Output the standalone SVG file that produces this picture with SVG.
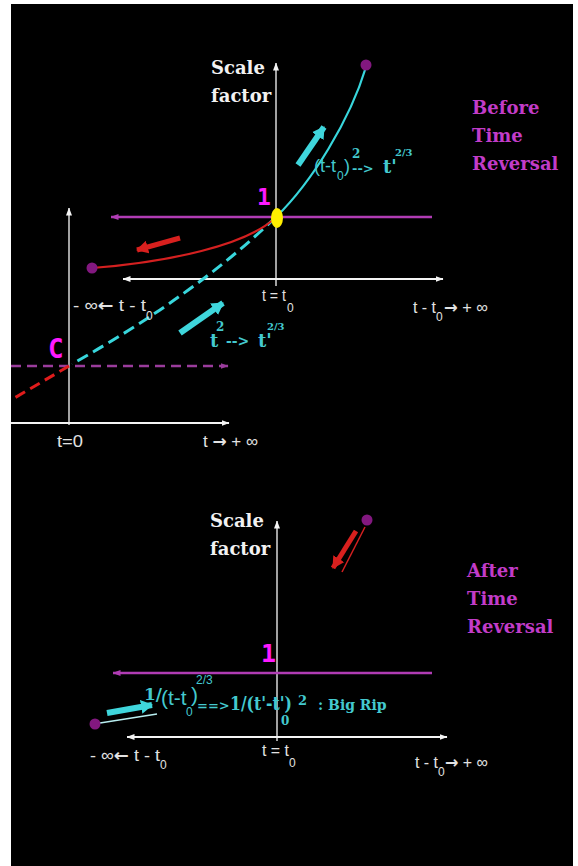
<svg xmlns="http://www.w3.org/2000/svg" width="578" height="866" viewBox="0 0 578 866">
<defs>
<style>
.ax{stroke:#d8d8d8;stroke-width:1.5;fill:none}
.hx{stroke:#f4f4f4;stroke-width:2.2;fill:none}
.mg{stroke:#b03cb4;stroke-width:2.5;fill:none}
.lbl{font-family:"Liberation Sans",Arial,sans-serif;fill:#e2e2e2;font-size:17px}
.arr{font-family:"DejaVu Sans",sans-serif;font-weight:bold}
.sub{font-family:"Liberation Sans",Arial,sans-serif;fill:#e2e2e2;font-size:12px}
.title{font-family:"DejaVu Serif",serif;font-weight:bold;font-size:18px;fill:#f2f2f2}
.side{font-family:"DejaVu Serif",serif;font-weight:bold;font-size:18px;fill:#c23cc8}
.one{font-family:"DejaVu Sans Mono",monospace;font-weight:bold;fill:#ff1aff}
.cy{fill:#44c9cf}
.cys{font-family:"Liberation Sans",Arial,sans-serif}
.cyb{font-family:"DejaVu Serif",serif;font-weight:bold}
.dot{fill:#82187f}
</style>
<marker id="ahw" viewBox="0 0 8 6" refX="7.5" refY="3" markerWidth="8" markerHeight="6" markerUnits="userSpaceOnUse" orient="auto-start-reverse"><path d="M0,0 L8,3 L0,6 z" fill="#f4f4f4"/></marker>
<marker id="ahm" viewBox="0 0 8 6" refX="7.5" refY="3" markerWidth="8" markerHeight="6" markerUnits="userSpaceOnUse" orient="auto-start-reverse"><path d="M0,0 L8,3 L0,6 z" fill="#b03cb4"/></marker>
<marker id="ahp" viewBox="0 0 8 6" refX="7.5" refY="3" markerWidth="8" markerHeight="6" markerUnits="userSpaceOnUse" orient="auto"><path d="M0,0 L8,3 L0,6 z" fill="#9a3c9c"/></marker>
<marker id="ahc" viewBox="0 0 12 14" refX="11" refY="7" markerWidth="12" markerHeight="14" markerUnits="userSpaceOnUse" orient="auto"><path d="M0,0 L12,7 L0,14 z" fill="#3fd6dc"/></marker>
<marker id="ahr" viewBox="0 0 12 13" refX="11" refY="6.5" markerWidth="12" markerHeight="13" markerUnits="userSpaceOnUse" orient="auto"><path d="M0,0 L12,6.5 L0,13 z" fill="#d8201e"/></marker>
</defs>
<rect x="0" y="0" width="578" height="866" fill="#ffffff"/>
<rect x="11" y="4" width="562" height="862" fill="#000000"/>

<g id="connectors">
<line class="ax" x1="276" y1="286" x2="276" y2="63" marker-end="url(#ahw)"/>
<line class="ax" x1="69" y1="425" x2="69" y2="208" marker-end="url(#ahw)"/>
<line class="hx" x1="123" y1="279" x2="443" y2="279" marker-start="url(#ahw)" marker-end="url(#ahw)"/>
<line class="hx" x1="11" y1="423" x2="229" y2="423" marker-end="url(#ahw)"/>
<line class="mg" x1="111" y1="217" x2="432" y2="217" marker-start="url(#ahm)"/>
<line x1="11" y1="366" x2="228" y2="366" stroke="#9a3c9c" stroke-width="2.5" stroke-dasharray="10,6" marker-end="url(#ahp)"/>
<path d="M366,67 C350,120 312,182 276,217" fill="none" stroke="#38d6dc" stroke-width="2.2"/>
<path d="M276,217 Q195,295 72,364" fill="none" stroke="#38d6dc" stroke-width="3" stroke-dasharray="12,6"/>
<path d="M69,366 L11,400" fill="none" stroke="#e01c1c" stroke-width="3" stroke-dasharray="11,6"/>
<path d="M274,219 C245,245 170,262 92,268" fill="none" stroke="#d42020" stroke-width="2.2"/>
<line x1="298" y1="165" x2="324" y2="127" stroke="#3fd6dc" stroke-width="6" marker-end="url(#ahc)"/>
<line x1="180" y1="238" x2="137" y2="250" stroke="#d8201e" stroke-width="5" marker-end="url(#ahr)"/>
<line x1="180" y1="333" x2="223" y2="303" stroke="#3fd6dc" stroke-width="6" marker-end="url(#ahc)"/>
<line class="ax" x1="277" y1="741" x2="277" y2="521" marker-end="url(#ahw)"/>
<line class="hx" x1="127" y1="737" x2="447" y2="737" marker-start="url(#ahw)" marker-end="url(#ahw)"/>
<line class="mg" x1="113" y1="673" x2="432" y2="673" marker-start="url(#ahm)" stroke="#c036c4"/>
<line x1="365" y1="527" x2="342" y2="572" stroke="#d42020" stroke-width="1.5"/>
<line x1="356" y1="531" x2="333" y2="568" stroke="#d8201e" stroke-width="5" marker-end="url(#ahr)"/>
<line x1="100" y1="723" x2="157" y2="714" stroke="#b8eef0" stroke-width="1.5"/>
<line x1="107" y1="713" x2="152" y2="705" stroke="#3fd6dc" stroke-width="6" marker-end="url(#ahc)"/>
</g>

<g id="top-graph">
<g id="top-scale-label">
<text class="title" x="211" y="74">Scale</text>
<text class="title" x="211" y="102">factor</text>
</g>
<g id="top-before-label">
<text class="side" x="472" y="114">Before</text>
<text class="side" x="472" y="142">Time</text>
<text class="side" x="472" y="170">Reversal</text>
</g>
<g id="top-end-dot"><circle class="dot" cx="366" cy="65" r="5.5"/></g>
<g id="top-start-dot"><circle class="dot" cx="92" cy="268" r="5.5"/></g>
<g id="present-point">
<ellipse cx="277" cy="218" rx="6" ry="10" fill="#ffee00"/>
<text class="one" x="257" y="205" font-size="23">1</text>
</g>
<g id="point-c"><text class="one" x="48" y="358" font-size="26">C</text></g>
<g id="top-formula-1" class="cy">
<text class="cys" x="314" y="172" font-size="18">(t-t</text>
<text class="cys" x="337" y="180" font-size="12">0</text>
<text class="cys" x="344" y="172" font-size="18">)</text>
<text class="cyb" x="352" y="158" font-size="12">2</text>
<text class="cyb" x="352" y="173" font-size="13">--&gt;</text>
<text class="cyb" x="383" y="173" font-size="18">t'</text>
<text class="cyb" x="395" y="156" font-size="10">2/3</text>
</g>
<g id="top-formula-2" class="cy">
<text class="cyb" x="210" y="347" font-size="18">t</text>
<text class="cyb" x="216" y="331" font-size="12">2</text>
<text class="cyb" x="226" y="346" font-size="14">--&gt;</text>
<text class="cyb" x="258" y="347" font-size="18">t'</text>
<text class="cyb" x="267" y="330" font-size="10">2/3</text>
</g>
<g id="top-axis-labels">
<text class="lbl" x="73" y="311" textLength="73" lengthAdjust="spacingAndGlyphs">- ∞<tspan class="arr">←</tspan> t - t</text>
<text class="sub" x="146" y="320">0</text>
<text class="lbl" x="262" y="301" textLength="24" lengthAdjust="spacingAndGlyphs">t = t</text>
<text class="sub" x="287" y="312">0</text>
<text class="lbl" x="413" y="313" textLength="23" lengthAdjust="spacingAndGlyphs">t - t</text>
<text class="sub" x="436" y="321">0</text>
<text class="lbl" x="444" y="313" textLength="44" lengthAdjust="spacingAndGlyphs"><tspan class="arr">→</tspan> + ∞</text>
<text class="lbl" x="57" y="447" textLength="26" lengthAdjust="spacingAndGlyphs">t=0</text>
<text class="lbl" x="203" y="447" textLength="55" lengthAdjust="spacingAndGlyphs">t <tspan class="arr">→</tspan> + ∞</text>
</g>
</g>

<g id="bottom-graph">
<g id="bottom-scale-label">
<text class="title" x="210" y="527">Scale</text>
<text class="title" x="210" y="555">factor</text>
</g>
<g id="bottom-after-label">
<text class="side" x="467" y="577">After</text>
<text class="side" x="467" y="605">Time</text>
<text class="side" x="467" y="633">Reversal</text>
</g>
<g id="bottom-end-dot"><circle class="dot" cx="367" cy="520" r="5.5"/></g>
<g id="bottom-start-dot"><circle class="dot" cx="95" cy="724" r="5.5"/></g>
<g id="bottom-one"><text class="one" x="261" y="662" font-size="25">1</text></g>
<g id="bottom-formula" class="cy">
<text class="cyb" x="144" y="700" font-size="17">1/</text>
<text class="cys" x="161" y="705" font-size="21">(t-t</text>
<text class="cys" x="186" y="716" font-size="12">0</text>
<text class="cys" x="191" y="702" font-size="21">)</text>
<text class="cys" x="196" y="684" font-size="12">2/3</text>
<text class="cyb" x="197" y="710" font-size="13">==&gt;</text>
<text class="cyb" x="230" y="710" font-size="19" textLength="62" lengthAdjust="spacingAndGlyphs">1/(t'-t')</text>
<text class="cyb" x="281" y="725" font-size="12">0</text>
<text class="cyb" x="298" y="705" font-size="13">2</text>
<text class="cyb" x="318" y="710" font-size="14">:  Big Rip</text>
</g>
<g id="bottom-axis-labels">
<text class="lbl" x="90" y="761" textLength="70" lengthAdjust="spacingAndGlyphs">- ∞<tspan class="arr">←</tspan> t - t</text>
<text class="sub" x="160" y="769">0</text>
<text class="lbl" x="262" y="756" textLength="27" lengthAdjust="spacingAndGlyphs">t = t</text>
<text class="sub" x="289" y="767">0</text>
<text class="lbl" x="415" y="768" textLength="23" lengthAdjust="spacingAndGlyphs">t - t</text>
<text class="sub" x="438" y="776">0</text>
<text class="lbl" x="445" y="768" textLength="43" lengthAdjust="spacingAndGlyphs"><tspan class="arr">→</tspan> + ∞</text>
</g>
</g>
</svg>
